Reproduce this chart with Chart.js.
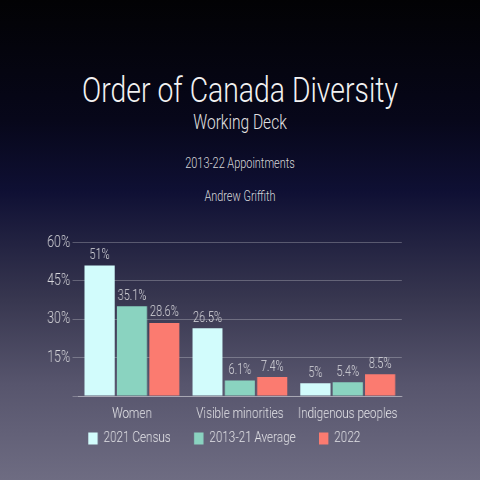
<!DOCTYPE html>
<html>
<head>
<meta charset="utf-8">
<script src="https://cdn.jsdelivr.net/npm/chart.js@4"></script>
<style>
  html, body { margin: 0; padding: 0; }
  body {
    width: 480px; height: 480px; overflow: hidden; position: relative;
    background: linear-gradient(to bottom, #020204 0%, #07071a 25%, #0f1034 40%, #37364f 62%, #57556d 80%, #6e6c82 100%);
    font-family: Roboto, "Liberation Sans", sans-serif;
  }
  .hdr { position: absolute; left: 0; width: 480px; text-align: center; font-weight: 300;
         transform: scaleX(0.78); transform-origin: 240px 0; }
  #title { top: 70px; font-size: 35px; color: #f2f2f2; transform: scaleX(0.81); }
  #sub { top: 110px; font-size: 21px; color: #e2e2e2; transform: scaleX(0.74); }
  #line3 { top: 155px; font-size: 14px; color: #d6d6d8; }
  #line4 { top: 188px; font-size: 14px; color: #d6d6d8; }
  /* slide was squeezed horizontally, so the chart is drawn wider and scaled */
  #wrap { position: absolute; left: 0; top: 230px; width: 615px; height: 226px;
          transform: scaleX(0.78); transform-origin: 0 0; }
</style>
</head>
<body>
<div class="hdr" id="title">Order of Canada Diversity</div>
<div class="hdr" id="sub">Working Deck</div>
<div class="hdr" id="line3">2013-22 Appointments</div>
<div class="hdr" id="line4">Andrew Griffith</div>
<div id="wrap"><canvas id="chart"></canvas></div>
<script>
const categories = ["Women", "Visible minorities", "Indigenous peoples"];
const seriesNames = ["2021 Census", "2013-21 Average", "2022"];
const census2021 = [51, 26.5, 5];
const average2013to21 = [35.1, 6.1, 5.4];
const year2022 = [28.6, 7.4, 8.5];
const yTicks = [0, 15, 30, 45, 60];
const colors = ["#d2fcfc", "#8ad3c0", "#fb7b70"];

const FONT = "Roboto, 'Liberation Sans', sans-serif";
const LEGEND_TRIM = 23;

const valueLabels = {
  id: "valueLabels",
  afterDatasetsDraw(chart) {
    const ctx = chart.ctx;
    ctx.save();
    ctx.font = "300 14px " + FONT;
    ctx.fillStyle = "#dcdce0";
    ctx.textAlign = "center";
    ctx.textBaseline = "bottom";
    chart.data.datasets.forEach((ds, i) => {
      chart.getDatasetMeta(i).data.forEach((bar, j) => {
        ctx.fillText(ds.data[j] + "%", bar.x, bar.y - 3);
      });
    });
    ctx.restore();
  }
};

// legend: take less room from the plot, and sit a bit right of centre
const legendTweak = {
  id: "legendTweak",
  beforeLayout(chart) {
    const lg = chart.legend;
    if (!lg || lg._trimmed) return;
    const fit = lg.fit;
    lg.fit = function () {
      fit.call(this);
      this.height -= LEGEND_TRIM;
    };
    lg._trimmed = true;
  },
  afterLayout(chart) {
    const lg = chart.legend;
    if (!lg) return;
    lg.left += 30;
    lg.right += 30;
    lg.top -= LEGEND_TRIM;
    lg.height += LEGEND_TRIM;
    if (lg.adjustHitBoxes) lg.adjustHitBoxes();
  }
};

new Chart(document.getElementById("chart").getContext("2d"), {
  type: "bar",
  data: {
    labels: categories,
    datasets: [census2021, average2013to21, year2022].map((d, i) => ({
      label: seriesNames[i],
      data: d,
      backgroundColor: colors[i],
      categoryPercentage: 0.9,
      barPercentage: 0.93,
    })),
  },
  options: {
    responsive: true,
    maintainAspectRatio: false,
    animation: false,
    layout: { padding: { top: 12, right: 100, left: 0, bottom: 0 } },
    plugins: {
      legend: {
        position: "bottom",
        labels: {
          color: "#e4e4e8",
          font: { family: FONT, size: 15, weight: 300 },
          boxWidth: 12,
          boxHeight: 12,
          padding: 30,
        },
      },
      tooltip: { enabled: false },
    },
    scales: {
      x: {
        grid: { display: false },
        border: { color: "rgba(255,255,255,0.3)" },
        ticks: {
          color: "#e4e4e8",
          font: { family: FONT, size: 15, weight: 300 },
          padding: 1,
          maxRotation: 0,
          autoSkip: false,
        },
      },
      y: {
        min: 0,
        max: 60,
        afterBuildTicks: (s) => { s.ticks = yTicks.map((v) => ({ value: v })); },
        afterFit: (s) => { s.width = 100; },
        grid: { color: "rgba(255,255,255,0.25)", tickLength: 7 },
        border: { display: false },
        ticks: {
          color: "#d8d8dc",
          font: { family: FONT, size: 16, weight: 300 },
          padding: 3,
          callback: (v) => (v === 0 ? "" : v + "%"),
        },
      },
    },
  },
  plugins: [valueLabels, legendTweak],
});
</script>
</body>
</html>
